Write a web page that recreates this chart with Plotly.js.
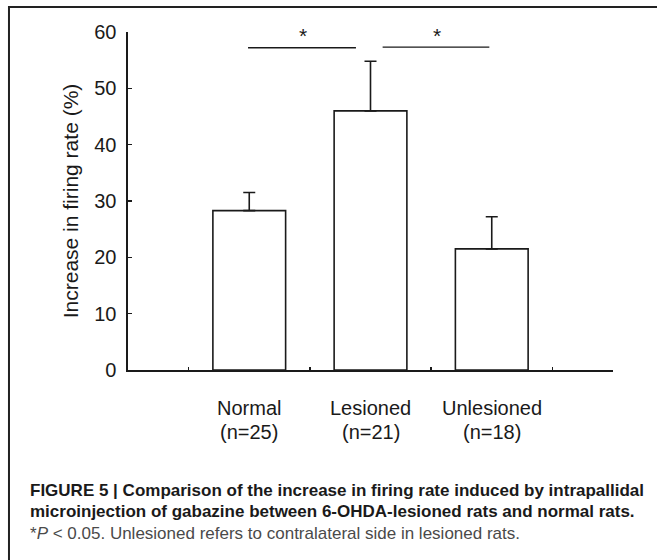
<!DOCTYPE html>
<html>
<head>
<meta charset="utf-8">
<script src="https://cdn.plot.ly/plotly-3.0.1.min.js"></script>
<style>
  html, body { margin: 0; padding: 0; background: #ffffff; }
  #chart { width: 657px; height: 560px; }
</style>
</head>
<body>
<div id="chart"></div>
<script>
// ---- data ----
const categories = ['Normal', 'Lesioned', 'Unlesioned'];
const nLabels = ['(n=25)', '(n=21)', '(n=18)'];
const catPos = [1, 2, 3];
const means = [28.3, 46.0, 21.5];
const semUp = [3.2, 8.8, 5.7];
const boundaryTicks = [0.5, 1.5, 2.5, 3.5];
const yTicks = [0, 10, 20, 30, 40, 50, 60];
// significance brackets (data units)
const sigX0 = [0.99, 2.10];
const sigX1 = [1.88, 2.98];
const sigY = [57.2, 57.3];
const sigStarX = [1.44, 2.55];
const sigStarY = [59.4, 59.4];
const sigLabel = ['*', '*'];
const captionLines = [
  '<b>FIGURE 5 | Comparison of the increase in firing rate induced by intrapallidal</b>',
  '<b>microinjection of gabazine between 6-OHDA-lesioned rats and normal rats.</b>',
  '*<i>P</i> &lt; 0.05. Unlesioned refers to contralateral side in lesioned rats.'
];

const FONT = 'Arial, "Liberation Sans", Helvetica, sans-serif';
const INK = '#1a1a1a';

const bars = {
  type: 'bar',
  x: catPos,
  y: means,
  width: 0.6,
  marker: { color: '#ffffff', line: { color: INK, width: 1.6 } },
  error_y: {
    type: 'data', symmetric: false, array: semUp,
    arrayminus: means.map(() => 0),
    color: INK, thickness: 1.6, width: 6
  },
  hoverinfo: 'skip',
  showlegend: false
};

const shapes = [];
for (let i = 0; i < sigX0.length; i++) {
  shapes.push({
    type: 'line', xref: 'x', yref: 'y',
    x0: sigX0[i], x1: sigX1[i], y0: sigY[i], y1: sigY[i],
    line: { color: INK, width: 1.3 }
  });
}
// figure frame (left and top rules)
shapes.push({
  type: 'path', xref: 'paper', yref: 'paper',
  path: 'M -0.2454 -0.6 L -0.2454 1.0740 L 1.12 1.0740',
  line: { color: '#222222', width: 2 }
});

const annotations = [];
for (let i = 0; i < sigStarX.length; i++) {
  annotations.push({
    x: sigStarX[i], y: sigStarY[i], xref: 'x', yref: 'y',
    text: sigLabel[i], showarrow: false,
    font: { family: FONT, size: 21, color: INK },
    xanchor: 'center', yanchor: 'middle'
  });
}
for (let i = 0; i < categories.length; i++) {
  annotations.push({
    x: catPos[i], y: 0, xref: 'x', yref: 'y',
    text: categories[i], showarrow: false,
    font: { family: FONT, size: 20, color: INK },
    xanchor: 'center', yanchor: 'middle', yshift: -37.7
  });
  annotations.push({
    x: catPos[i], y: 0, xref: 'x', yref: 'y',
    text: nLabels[i], showarrow: false,
    font: { family: FONT, size: 20, color: INK },
    xanchor: 'center', yanchor: 'middle', yshift: -61.7
  });
}
const capY = [490, 511, 533];
for (let i = 0; i < captionLines.length; i++) {
  annotations.push({
    x: (28 - 128) / 485, y: (370 - capY[i]) / 338, xref: 'paper', yref: 'paper',
    text: captionLines[i], showarrow: false, align: 'left',
    xanchor: 'left', yanchor: 'middle',
    font: { family: FONT, size: 17, color: i < 2 ? '#1a1a1a' : '#4a4a4a' }
  });
}

const layout = {
  width: 657, height: 560,
  margin: { l: 128, r: 44, t: 32, b: 190 },
  paper_bgcolor: '#ffffff', plot_bgcolor: '#ffffff',
  showlegend: false,
  xaxis: {
    range: [0, 4], tickvals: boundaryTicks, showticklabels: false,
    ticks: 'inside', ticklen: 3, tickwidth: 1.3, tickcolor: INK,
    showline: true, linecolor: INK, linewidth: 1.6,
    showgrid: false, zeroline: false, fixedrange: true
  },
  yaxis: {
    range: [0, 60], tickvals: yTicks,
    ticks: 'inside', ticklen: 4, tickwidth: 1.3, tickcolor: INK,
    showline: true, linecolor: INK, linewidth: 1.6,
    showgrid: false, zeroline: false, fixedrange: true,
    ticklabelstandoff: 6,
    tickfont: { family: FONT, size: 20, color: INK },
    title: { text: 'Increase in firing rate (%)', standoff: 10,
             font: { family: FONT, size: 21, color: INK } }
  },
  shapes: shapes,
  annotations: annotations
};

Plotly.newPlot('chart', [bars], layout, { displayModeBar: false, staticPlot: true });
</script>
</body>
</html>
